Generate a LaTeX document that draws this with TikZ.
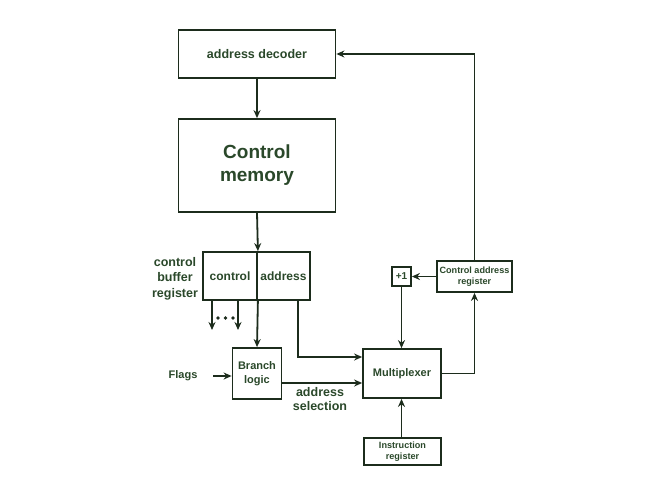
\documentclass[tikz,border=0pt]{standalone}
\usepackage{fontspec}
\setmainfont{Liberation Sans}
\usetikzlibrary{arrows.meta,calc}
\definecolor{txt}{RGB}{42,72,42}
\definecolor{ln}{RGB}{28,44,28}
\tikzset{
  box/.style={draw=ln, line width=1.8pt, rectangle, inner sep=0pt, text=txt, font=\bfseries, align=center},
  lab/.style={text=txt, font=\bfseries, align=center, inner sep=0pt},
  arr/.style={draw=ln, line width=1.8pt, -{Stealth[length=8pt,width=7pt]}},
  dot/.style={fill=ln, circle, inner sep=0pt, minimum size=3.8pt}
}
\begin{document}
\begin{tikzpicture}[x=1pt,y=-1pt]
\useasboundingbox (0,0) rectangle (660,495);
\fill[white] (0,0) rectangle (660,495);
\node[box, minimum width=157pt, minimum height=48pt, font=\fontsize{12.5}{14}\selectfont\bfseries] (dec) at (257,54) {address decoder};
\node[box, minimum width=157pt, minimum height=93pt, font=\fontsize{19}{23}\selectfont\bfseries] (cm) at (257,165.5) {Control\\memory};
\node[box, minimum width=54pt, minimum height=48pt, font=\fontsize{12}{14}\selectfont\bfseries] (ctl) at (230,276) {control};
\node[box, minimum width=53pt, minimum height=48pt, font=\fontsize{12}{14}\selectfont\bfseries] (adr) at (283.5,276) {address};
\node[lab, font=\fontsize{12.5}{15.5}\selectfont\bfseries] (cbr) at (175,278.5) {control\\buffer\\register};
\node[box, minimum width=49pt, minimum height=51pt, font=\fontsize{11}{14}\selectfont\bfseries] (bl) at (257,373.5) {Branch\\logic};
\node[box, minimum width=78pt, minimum height=49pt, font=\fontsize{11}{13}\selectfont\bfseries] (mux) at (402,373.5) {Multiplexer};
\node[box, minimum width=19pt, minimum height=19pt, font=\fontsize{10}{12}\selectfont\bfseries] (inc) at (401.5,276.5) {+1};
\node[box, minimum width=75pt, minimum height=31pt, font=\fontsize{9.1}{11.5}\selectfont\bfseries] (car) at (474.5,276.5) {Control address\\register};
\node[box, minimum width=77pt, minimum height=27pt, font=\fontsize{9.1}{11.5}\selectfont\bfseries] (ir) at (402.5,451.5) {Instruction\\register};
\node[lab, font=\fontsize{11}{13}\selectfont\bfseries] (flags) at (183,376) {Flags};
\node[lab, font=\fontsize{12.5}{14.5}\selectfont\bfseries] (sel) at (320,399) {address\\selection};
\node[dot] (d1) at (218,318) {};
\node[dot] (d2) at (225.5,318) {};
\node[dot] (d3) at (233,318) {};
% connectors
\draw[arr] (dec.south) -- (cm.north);
\draw[arr] (cm.south) -- (ctl.north east);
\draw[arr] (ctl.south east) -- (bl.north);
\coordinate (c1) at (212,330);
\coordinate (c2) at (238,330);
\draw[arr] (c1 |- ctl.south) -- (c1);
\draw[arr] (c2 |- ctl.south) -- (c2);
\coordinate (a1) at (298,357);
\draw[arr] (a1 |- adr.south) -- (a1) -- (a1 -| mux.west);
\coordinate (b1) at (281,383);
\draw[arr] (b1 -| bl.east) -- (b1 -| mux.west);
\coordinate (f1) at (213,376);
\draw[arr] (f1) -- (f1 -| bl.west);
\draw[arr] (inc.south) -- (inc.south |- mux.north);
\draw[arr] (car.west) -- (inc.east);
\draw[arr] (mux.east) -| (car.south);
\draw[arr] (car.north) |- (dec.east);
\draw[arr] (ir.north -| inc.south) -- (inc.south |- mux.south);
\end{tikzpicture}
\end{document}
